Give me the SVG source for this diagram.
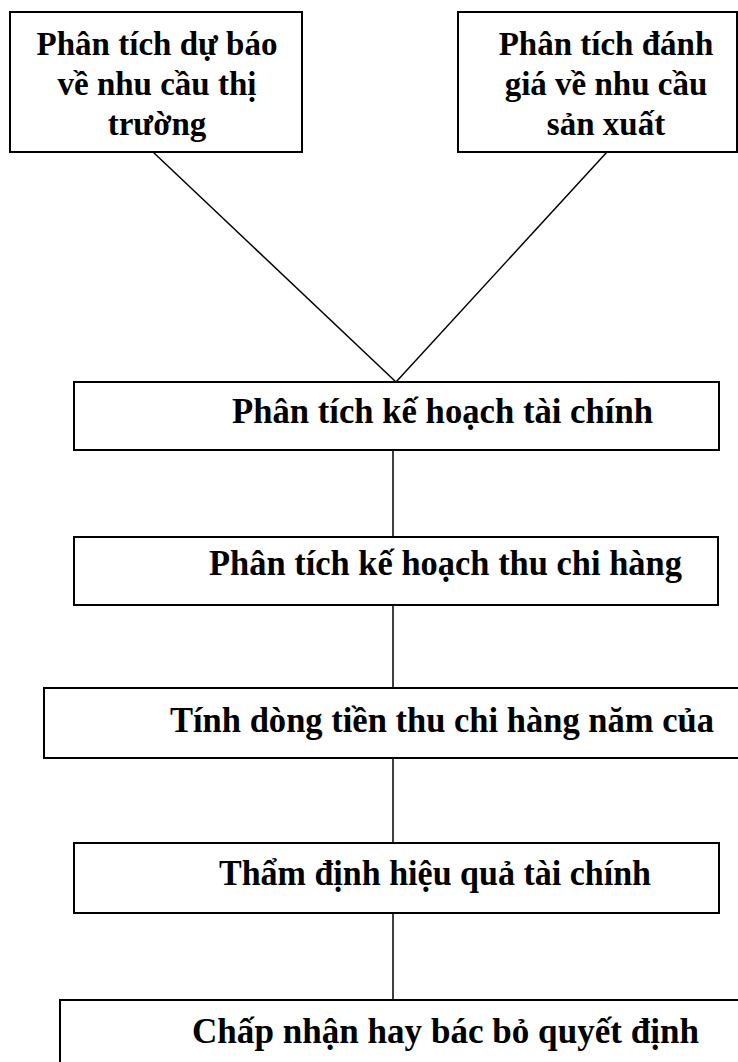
<svg xmlns="http://www.w3.org/2000/svg" width="738" height="1062" viewBox="0 0 738 1062">
  <style>
    .box { fill: #ffffff; stroke: #000000; stroke-width: 2; }
    .link { stroke: #000000; stroke-width: 1.5; fill: none; }
    .top { font-family: "Liberation Serif", "Times New Roman", serif; font-weight: bold; font-size: 33px; fill: #000000; text-anchor: middle; }
    .step { font-family: "Liberation Serif", "Times New Roman", serif; font-weight: bold; font-size: 35px; fill: #000000; }
  </style>
  <rect width="738" height="1062" fill="#ffffff"/>

  <!-- connectors -->
  <g id="connectors">
    <line class="link" x1="153" y1="152" x2="396" y2="382"/>
    <line class="link" x1="607" y1="152" x2="396" y2="382"/>
    <line class="link" x1="393" y1="450" x2="393" y2="537"/>
    <line class="link" x1="393" y1="605" x2="393" y2="688"/>
    <line class="link" x1="393" y1="758" x2="393" y2="843"/>
    <line class="link" x1="393" y1="913" x2="393" y2="1000"/>
  </g>

  <!-- market demand forecast -->
  <g id="node-market">
    <rect class="box" x="10" y="12" width="292" height="140"/>
    <text class="top" x="157" y="55">Phân tích dự báo</text>
    <text class="top" x="157" y="95">về nhu cầu thị</text>
    <text class="top" x="157" y="135">trường</text>
  </g>

  <!-- production demand assessment -->
  <g id="node-production">
    <rect class="box" x="458" y="12" width="279" height="140"/>
    <text class="top" x="606" y="55">Phân tích đánh</text>
    <text class="top" x="606" y="95">giá về nhu cầu</text>
    <text class="top" x="606" y="135">sản xuất</text>
  </g>

  <g id="node-finance-plan">
    <rect class="box" x="74" y="382" width="645" height="68"/>
    <text class="step" x="232" y="423" textLength="421" lengthAdjust="spacingAndGlyphs">Phân tích kế hoạch tài chính</text>
  </g>

  <g id="node-cashflow-plan">
    <rect class="box" x="74" y="537" width="644" height="68"/>
    <text class="step" x="209" y="575" textLength="473" lengthAdjust="spacingAndGlyphs">Phân tích kế hoạch thu chi hàng</text>
  </g>

  <g id="node-annual-cashflow">
    <rect class="box" x="44" y="688" width="700" height="70"/>
    <text class="step" x="170" y="732" textLength="544" lengthAdjust="spacingAndGlyphs">Tính dòng tiền thu chi hàng năm của</text>
  </g>

  <g id="node-appraisal">
    <rect class="box" x="74" y="843" width="645" height="70"/>
    <text class="step" x="219" y="885" textLength="432" lengthAdjust="spacingAndGlyphs">Thẩm định hiệu quả tài chính</text>
  </g>

  <g id="node-decision">
    <rect class="box" x="60" y="1000" width="690" height="80"/>
    <text class="step" x="192" y="1043" textLength="507" lengthAdjust="spacingAndGlyphs">Chấp nhận hay bác bỏ quyết định</text>
  </g>
</svg>
